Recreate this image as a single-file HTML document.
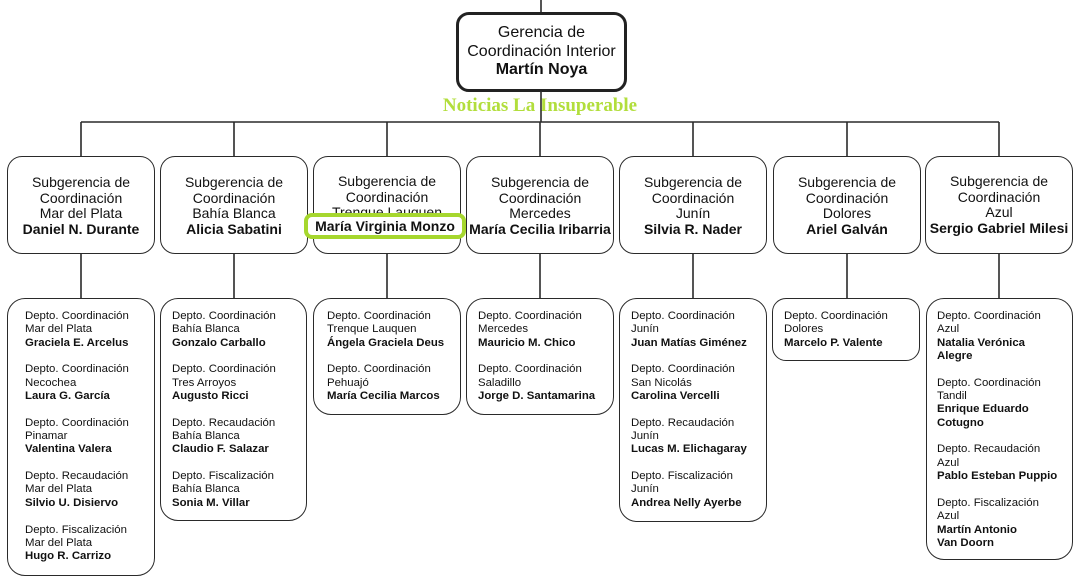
<!DOCTYPE html>
<html><head><meta charset="utf-8">
<style>
html,body{margin:0;padding:0;background:#fff;}
body{width:1081px;height:585px;position:relative;overflow:hidden;font-family:"Liberation Sans",Arial,sans-serif;color:#111;}
.b{position:absolute;box-sizing:border-box;border:1.6px solid #2a2a2a;border-radius:15px;background:#fff;}
.st{position:absolute;width:148px;text-align:center;font-size:14px;line-height:15.5px;white-space:nowrap;}
.lt{position:absolute;font-size:11.4px;line-height:13.35px;white-space:nowrap;}
b{font-weight:bold;}
svg{position:absolute;left:0;top:0;}
</style></head><body>
<svg width="1081" height="585">
<g stroke="#2a2a2a" stroke-width="1.6" fill="none">
<line x1="541" y1="0" x2="541" y2="13"/>
<line x1="81" y1="122" x2="999" y2="122"/>
<line x1="81" y1="122" x2="81" y2="157"/>
<line x1="234" y1="122" x2="234" y2="157"/>
<line x1="387" y1="122" x2="387" y2="157"/>
<line x1="540" y1="122" x2="540" y2="157"/>
<line x1="693" y1="122" x2="693" y2="157"/>
<line x1="847" y1="122" x2="847" y2="157"/>
<line x1="999" y1="122" x2="999" y2="157"/>
<line x1="81" y1="253" x2="81" y2="299"/>
<line x1="234" y1="253" x2="234" y2="299"/>
<line x1="387" y1="253" x2="387" y2="299"/>
<line x1="540" y1="253" x2="540" y2="299"/>
<line x1="693" y1="253" x2="693" y2="299"/>
<line x1="847" y1="253" x2="847" y2="299"/>
<line x1="999" y1="253" x2="999" y2="299"/>
</g>
</svg>

<!-- top box -->
<div class="b" style="left:456px;top:12px;width:171px;height:80px;border:3px solid #222;border-radius:13px;"></div>
<div style="position:absolute;left:456px;top:24px;width:171px;text-align:center;font-size:16px;line-height:18.5px;white-space:nowrap;">Gerencia de<br>Coordinación Interior<br><b>Martín Noya</b></div>

<div style="position:absolute;left:390px;top:94px;width:300px;text-align:center;font-family:'Liberation Serif','Times New Roman',serif;font-weight:bold;font-size:19px;line-height:24px;color:#b2de3c;">Noticias La Insuperable</div>
<svg width="1081" height="585"><line x1="541" y1="91" x2="541" y2="122" stroke="#2a2a2a" stroke-width="1.6"/></svg>

<!-- subgerencia boxes -->
<div class="b" style="left:7px;top:156px;width:148px;height:98px;"></div>
<div class="b" style="left:160px;top:156px;width:148px;height:98px;"></div>
<div class="b" style="left:313px;top:156px;width:148px;height:98px;"></div>
<div class="b" style="left:466px;top:156px;width:148px;height:98px;"></div>
<div class="b" style="left:619px;top:156px;width:148px;height:98px;"></div>
<div class="b" style="left:773px;top:156px;width:148px;height:98px;"></div>
<div class="b" style="left:925px;top:156px;width:148px;height:98px;"></div>

<div class="st" style="left:7px;top:175px;">Subgerencia de<br>Coordinación<br>Mar del Plata<br><b>Daniel N. Durante</b></div>
<div class="st" style="left:160px;top:175px;">Subgerencia de<br>Coordinación<br>Bahía Blanca<br><b>Alicia Sabatini</b></div>
<div class="st" style="left:313px;top:174px;">Subgerencia de<br>Coordinación<br>Trenque Lauquen<br><b>María Virginia Monzo</b></div>
<div class="st" style="left:466px;top:175px;">Subgerencia de<br>Coordinación<br>Mercedes<br><b>María Cecilia Iribarria</b></div>
<div class="st" style="left:619px;top:175px;">Subgerencia de<br>Coordinación<br>Junín<br><b>Silvia R. Nader</b></div>
<div class="st" style="left:773px;top:175px;">Subgerencia de<br>Coordinación<br>Dolores<br><b>Ariel Galván</b></div>
<div class="st" style="left:925px;top:174px;">Subgerencia de<br>Coordinación<br>Azul<br><b>Sergio Gabriel Milesi</b></div>

<!-- green highlight -->
<div style="position:absolute;left:304px;top:213px;width:162px;height:26px;box-sizing:border-box;border:4px solid #a6d72e;border-radius:8px;background:#fff;"></div>
<div style="position:absolute;left:304px;top:219px;width:162px;text-align:center;font-size:14px;line-height:15.5px;font-weight:bold;white-space:nowrap;">María Virginia Monzo</div>

<!-- lower boxes -->
<div class="b" style="left:7px;top:298px;width:148px;height:278px;border-radius:18px;"></div>
<div class="b" style="left:160px;top:298px;width:147px;height:223px;border-radius:18px;"></div>
<div class="b" style="left:313px;top:298px;width:148px;height:117px;border-radius:18px;"></div>
<div class="b" style="left:466px;top:298px;width:148px;height:117px;border-radius:18px;"></div>
<div class="b" style="left:619px;top:298px;width:148px;height:224px;border-radius:18px;"></div>
<div class="b" style="left:772px;top:298px;width:148px;height:63px;border-radius:14px;"></div>
<div class="b" style="left:926px;top:298px;width:147px;height:262px;border-radius:18px;"></div>

<div class="lt" style="left:25px;top:310px;">Depto. Coordinación<br>Mar del Plata<br><b>Graciela E. Arcelus</b><br><br>Depto. Coordinación<br>Necochea<br><b>Laura G. García</b><br><br>Depto. Coordinación<br>Pinamar<br><b>Valentina Valera</b><br><br>Depto. Recaudación<br>Mar del Plata<br><b>Silvio U. Disiervo</b><br><br>Depto. Fiscalización<br>Mar del Plata<br><b>Hugo R. Carrizo</b></div>

<div class="lt" style="left:172px;top:310px;">Depto. Coordinación<br>Bahía Blanca<br><b>Gonzalo Carballo</b><br><br>Depto. Coordinación<br>Tres Arroyos<br><b>Augusto Ricci</b><br><br>Depto. Recaudación<br>Bahía Blanca<br><b>Claudio F. Salazar</b><br><br>Depto. Fiscalización<br>Bahía Blanca<br><b>Sonia M. Villar</b></div>

<div class="lt" style="left:327px;top:310px;">Depto. Coordinación<br>Trenque Lauquen<br><b>Ángela Graciela Deus</b><br><br>Depto. Coordinación<br>Pehuajó<br><b>María Cecilia Marcos</b></div>

<div class="lt" style="left:478px;top:310px;">Depto. Coordinación<br>Mercedes<br><b>Mauricio M. Chico</b><br><br>Depto. Coordinación<br>Saladillo<br><b>Jorge D. Santamarina</b></div>

<div class="lt" style="left:631px;top:310px;">Depto. Coordinación<br>Junín<br><b>Juan Matías Giménez</b><br><br>Depto. Coordinación<br>San Nicolás<br><b>Carolina Vercelli</b><br><br>Depto. Recaudación<br>Junín<br><b>Lucas M. Elichagaray</b><br><br>Depto. Fiscalización<br>Junín<br><b>Andrea Nelly Ayerbe</b></div>

<div class="lt" style="left:784px;top:310px;">Depto. Coordinación<br>Dolores<br><b>Marcelo P. Valente</b></div>

<div class="lt" style="left:937px;top:310px;">Depto. Coordinación<br>Azul<br><b>Natalia Verónica<br>Alegre</b><br><br>Depto. Coordinación<br>Tandil<br><b>Enrique Eduardo<br>Cotugno</b><br><br>Depto. Recaudación<br>Azul<br><b>Pablo Esteban Puppio</b><br><br>Depto. Fiscalización<br>Azul<br><b>Martín Antonio<br>Van Doorn</b></div>

</body></html>
